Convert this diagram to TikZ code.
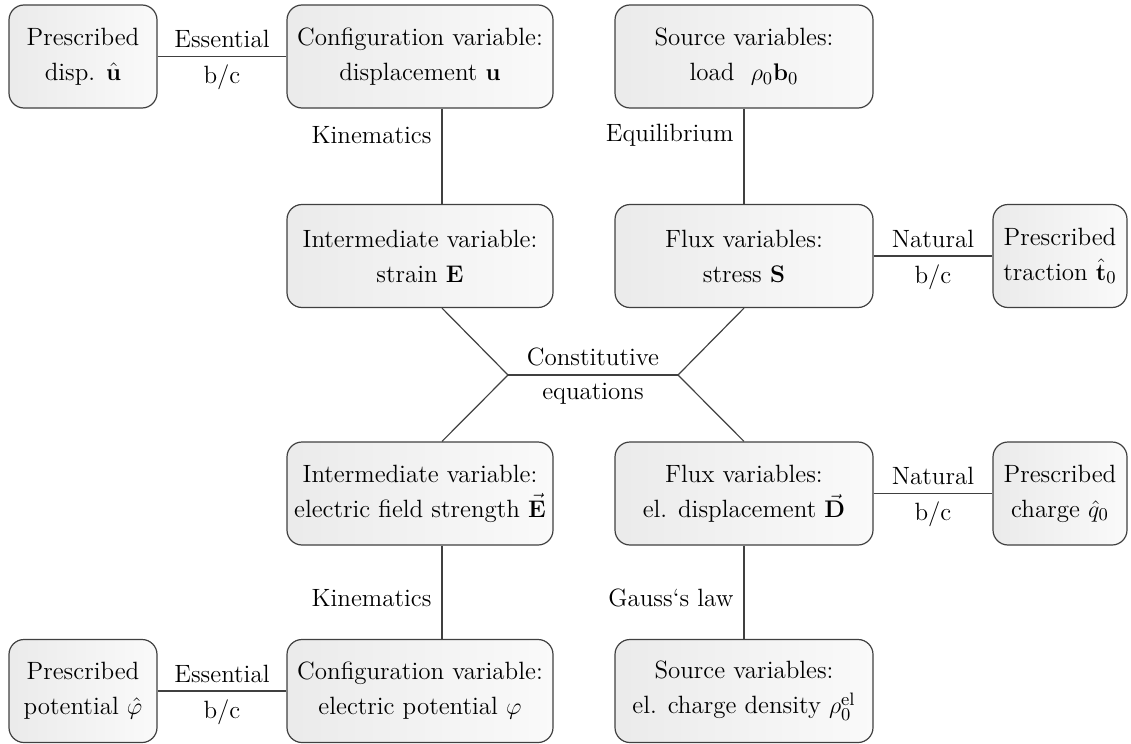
\documentclass[tikz,border=0pt]{standalone}
\usepackage{amsmath,amssymb}
\usepackage{tikz}
\usetikzlibrary{positioning}
\tikzset{bx/.style={draw=black!75,rounded corners=7.5pt,left color=black!8,right color=black!2,align=center,minimum height=51.5pt,inner sep=1pt,font=\fontsize{12.5}{17.5}\selectfont}}
\tikzset{lbl/.style={inner sep=2pt,font=\fontsize{12.5}{17.5}\selectfont}}

\begin{document}
\begin{tikzpicture}[x=0.5pt,y=-0.5pt,line width=0.6pt,draw=black!75]
    \useasboundingbox (0,0) rectangle (1131,744);
    % mechanical part
    \node[bx,minimum width=74pt] (pdisp)at (83,56.5) {Prescribed\\disp. $\hat{\mathbf{u}}$};
    \node[bx,minimum width=133pt] (cfgu)at (420,56.5) {Configuration variable:\\displacement $\mathbf{u}$};
    \node[bx,minimum width=129pt] (load)at (744,56.5) {Source variables:\\load\ \ $\rho_0\mathbf{b}_0$};
    \node[bx,minimum width=133pt] (strain)at (420,256) {Intermediate variable:\\strain $\mathbf{E}$};
    \node[bx,minimum width=129pt] (stress)at (744,256) {Flux variables:\\stress $\mathbf{S}$};
    \node[bx,minimum width=67pt] (ptrac)at (1060,256) {Prescribed\\traction $\hat{\mathbf{t}}_0$};
    % electrical part
    \node[bx,minimum width=133pt] (efield)at (420,493.5) {Intermediate variable:\\electric field strength $\vec{\mathbf{E}}$};
    \node[bx,minimum width=129pt] (dfield)at (744,493.5) {Flux variables:\\el. displacement $\vec{\mathbf{D}}$};
    \node[bx,minimum width=67pt] (pcharge)at (1060,493.5) {Prescribed\\charge $\hat{q}_0$};
    \node[bx,minimum width=74pt] (ppot)at (83,691) {Prescribed\\potential $\hat{\varphi}$};
    \node[bx,minimum width=133pt] (cfgphi)at (420,691) {Configuration variable:\\electric potential $\varphi$};
    \node[bx,minimum width=129pt] (charge)at (744,691) {Source variables:\\el. charge density $\rho_0^{\mathrm{el}}$};
    \coordinate (cl) at (508,375);
    \coordinate (cr) at (678,375);

    \draw [] (pdisp) to []node[lbl,above=2pt]{Essential} node[lbl,below=2pt]{b/c} (cfgu);
    \draw [] ([xshift=11pt]cfgu.south) to []node[lbl,left=3pt,pos=0.28]{Kinematics} ([xshift=11pt]strain.north);
    \draw [] (load) to []node[lbl,left=3pt,pos=0.28]{Equilibrium} (stress);
    \draw [] (stress) to []node[lbl,above=2pt]{Natural} node[lbl,below=2pt]{b/c} (ptrac);
    \draw [] ([xshift=11pt]strain.south) to [] (cl);
    \draw [] (stress.south) to [] (cr);
    \draw [] (cl) to []node[lbl,above=2pt]{Constitutive} node[lbl,below=2pt]{equations} (cr);
    \draw [] (cl) to [] ([xshift=11pt]efield.north);
    \draw [] (cr) to [] (dfield.north);
    \draw [] (dfield) to []node[lbl,above=2pt]{Natural} node[lbl,below=2pt]{b/c} (pcharge);
    \draw [] ([xshift=11pt]efield.south) to []node[lbl,left=3pt,pos=0.56]{Kinematics} ([xshift=11pt]cfgphi.north);
    \draw [] (dfield) to []node[lbl,left=3pt,pos=0.56]{Gauss`s law} (charge);
    \draw [] (ppot) to []node[lbl,above=2pt]{Essential} node[lbl,below=2pt]{b/c} (cfgphi);
\end{tikzpicture}
\end{document}
